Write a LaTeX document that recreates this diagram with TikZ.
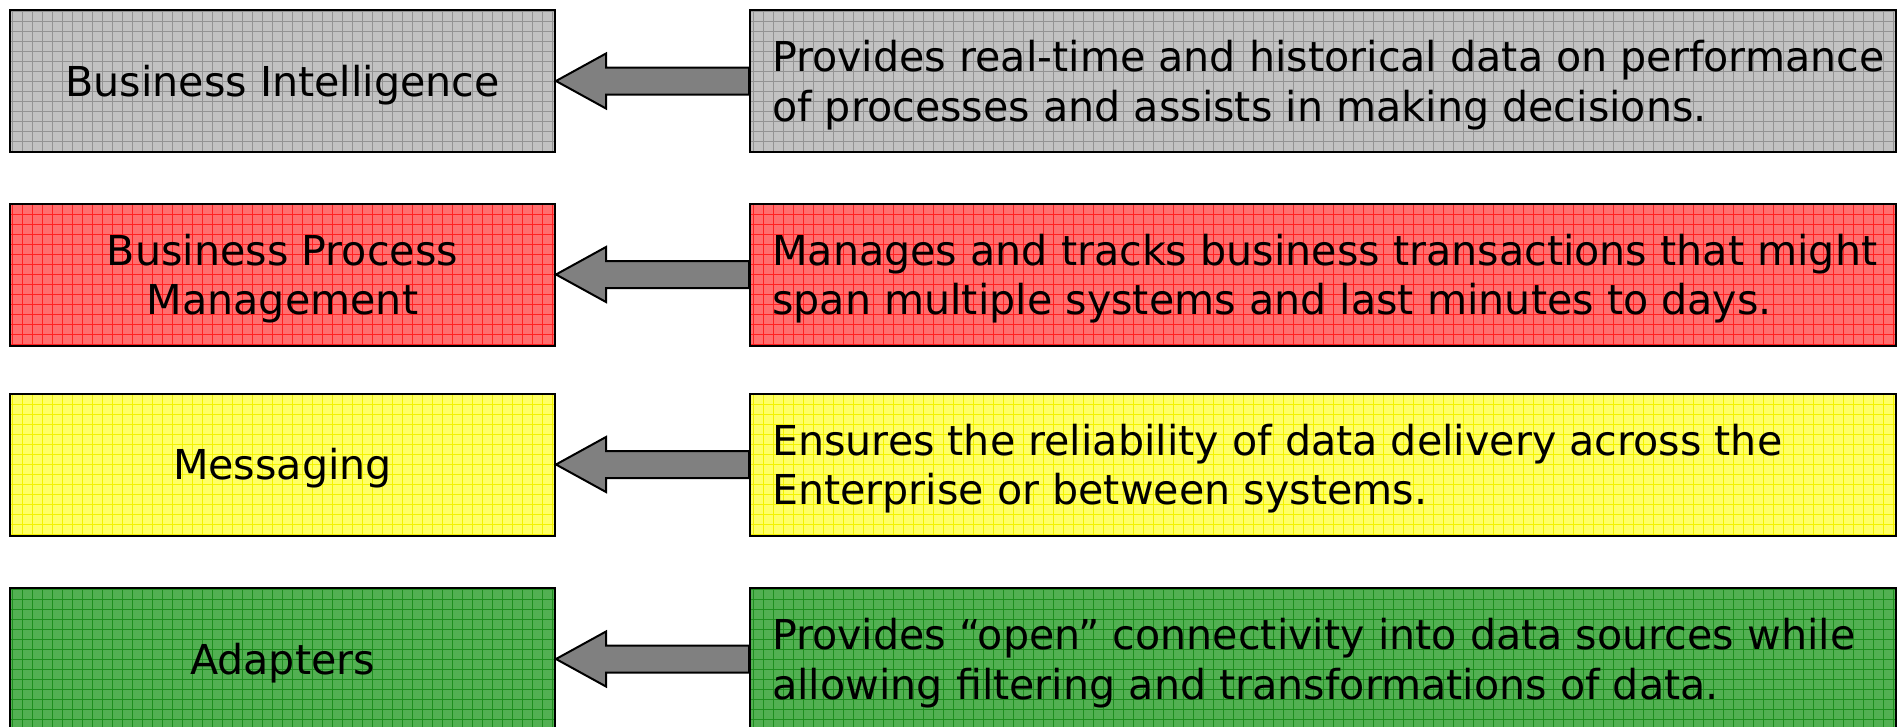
\documentclass[tikz,border=0pt]{standalone}
\usepackage{fontspec}
\setmainfont{DejaVu Sans}
\usetikzlibrary{calc}
\definecolor{grayB}{HTML}{C2C2C2}
\definecolor{grayL}{HTML}{939393}
\definecolor{redB}{HTML}{FF6E6E}
\definecolor{redL}{HTML}{FF2020}
\definecolor{yelB}{HTML}{FFFF66}
\definecolor{yelL}{HTML}{F2F200}
\definecolor{grnB}{HTML}{52B052}
\definecolor{grnL}{HTML}{1E8E1E}
\definecolor{arrowfill}{HTML}{808080}
\begin{document}
\begin{tikzpicture}[x=1pt,y=1pt,
  gridc/.style={path picture={\draw[#1,line width=0.75pt,step=10pt]
     (path picture bounding box.south west) grid (path picture bounding box.north east);}},
  basebox/.style={draw=black,line width=2pt,minimum height=142pt,inner sep=0pt},
  lbox/.style={basebox,minimum width=545pt},
  rbox/.style={basebox,minimum width=1146pt},
  ltext/.style={align=center,inner sep=0pt,font=\fontsize{41.2}{49.5}\selectfont},
  rtext/.style={anchor=west,align=left,inner sep=0pt,font=\fontsize{41.2}{49.5}\selectfont},
  arr/.style={draw=black,line width=2pt,fill=arrowfill,line join=miter}]
\useasboundingbox (0,0) rectangle (1902,-726);
\clip (0,0) rectangle (1902,-726);

% row 1
\node[lbox,fill=grayB,gridc=grayL] (bi) at (282.5,-81) {};
\node[ltext] (biL) at ($(bi.center)+(0,-4)$) {Business Intelligence};
\node[rbox,fill=grayB,gridc=grayL] (biR) at (1323,-81) {};
\node[rtext] (biT) at ($(biR.west)+(23,-4)$) {Provides real-time and historical data on performance\\of processes and assists in making decisions.};
% row 2
\node[lbox,fill=redB,gridc=redL] (bpm) at (282.5,-274.5) {};
\node[ltext] (bpmL) at ($(bpm.center)+(0,-4)$) {Business Process\\Management};
\node[rbox,fill=redB,gridc=redL] (bpmR) at (1323,-274.5) {};
\node[rtext] (bpmT) at ($(bpmR.west)+(23,-4)$) {Manages and tracks business transactions that might\\span multiple systems and last minutes to days.};
% row 3
\node[lbox,fill=yelB,gridc=yelL] (msg) at (282.5,-464.5) {};
\node[ltext] (msgL) at ($(msg.center)+(0,-4)$) {Messaging};
\node[rbox,fill=yelB,gridc=yelL] (msgR) at (1323,-464.5) {};
\node[rtext] (msgT) at ($(msgR.west)+(23,-4)$) {Ensures the reliability of data delivery across the\\Enterprise or between systems.};
% row 4
\node[lbox,fill=grnB,gridc=grnL] (ad) at (282.5,-659) {};
\node[ltext] (adL) at ($(ad.center)+(0,-4)$) {Adapters};
\node[rbox,fill=grnB,gridc=grnL] (adR) at (1323,-659) {};
\node[rtext] (adT) at ($(adR.west)+(23,-4)$) {Provides “open” connectivity into data sources while\\allowing filtering and transformations of data.};

% arrows
\foreach \L/\R in {bi/biR,bpm/bpmR,msg/msgR,ad/adR}{
  \path[arr] (\L.east) -- ($(\L.east)+(50,27.5)$) -- ($(\L.east)+(50,13.5)$)
    -- ($(\R.west)+(0,13.5)$) -- ($(\R.west)+(0,-13.5)$)
    -- ($(\L.east)+(50,-13.5)$) -- ($(\L.east)+(50,-27.5)$) -- cycle;
}
\end{tikzpicture}
\end{document}
